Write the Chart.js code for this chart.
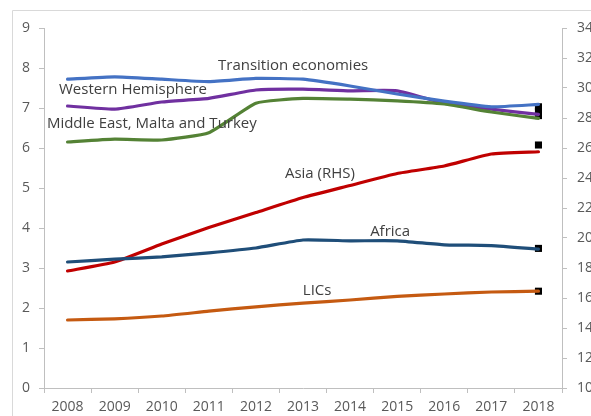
<!DOCTYPE html>
<html>
<head>
<meta charset="utf-8">
<script src="https://cdn.jsdelivr.net/npm/chart.js@4/dist/chart.umd.min.js"></script>
<style>
  html, body { margin: 0; padding: 0; background: #ffffff; }
  #wrap { width: 591px; height: 416px; }
</style>
</head>
<body>
<div id="wrap"><canvas id="c" width="591" height="416"></canvas></div>
<script>
const years = ['2008','2009','2010','2011','2012','2013','2014','2015','2016','2017','2018'];
const leftTicks = [0,1,2,3,4,5,6,7,8,9];
const rightTicks = [10,12,14,16,18,20,22,24,26,28,30,32,34];

const transition = [7.72, 7.78, 7.72, 7.66, 7.74, 7.72, 7.55, 7.35, 7.17, 7.03, 7.09];
const westernHem = [7.05, 6.97, 7.15, 7.24, 7.45, 7.47, 7.43, 7.43, 7.12, 6.97, 6.84];
const middleEast = [6.15, 6.22, 6.20, 6.38, 7.12, 7.24, 7.22, 7.18, 7.10, 6.90, 6.74];
const asiaRHS    = [17.8, 18.4, 19.6, 20.7, 21.7, 22.7, 23.5, 24.3, 24.8, 25.6, 25.75];
const africa     = [3.15, 3.22, 3.28, 3.38, 3.50, 3.70, 3.68, 3.68, 3.58, 3.56, 3.47];
const lics       = [1.70, 1.73, 1.80, 1.92, 2.03, 2.12, 2.20, 2.29, 2.35, 2.40, 2.42];

// 2018 black square markers
const markerYear = '2018';
const markersLeft = [7.03, 6.92, 6.81, 3.49, 2.42];
const markerAsia = [26.2];

const seriesLabels = [
  { text: 'Transition economies', xi: 4.79, y: 8.05 },
  { text: 'Western Hemisphere', xi: 1.39, y: 7.45 },
  { text: 'Middle East, Malta and Turkey', xi: 1.79, y: 6.6 },
  { text: 'Asia (RHS)', xi: 5.36, y: 5.35 },
  { text: 'Africa', xi: 6.85, y: 3.9 },
  { text: 'LICs', xi: 5.3, y: 2.43 }
];

const FONT = "'Segoe UI', 'Open Sans', 'Noto Sans', sans-serif";

const framePlugin = {
  id: 'frame',
  beforeDraw(chart) {
    const ctx = chart.ctx;
    ctx.save();
    ctx.strokeStyle = '#d9d9d9';
    ctx.lineWidth = 1;
    ctx.beginPath();
    ctx.moveTo(12.5, 416);
    ctx.lineTo(12.5, 10.5);
    ctx.lineTo(591, 10.5);
    ctx.stroke();
    ctx.restore();
  }
};

const labelPlugin = {
  id: 'seriesLabels',
  afterDatasetsDraw(chart) {
    const ctx = chart.ctx;
    const xs = chart.scales.x, ys = chart.scales.y;
    const band = (xs.right - xs.left) / years.length;
    ctx.save();
    ctx.font = '15px ' + FONT;
    ctx.fillStyle = '#404040';
    ctx.textAlign = 'center';
    ctx.textBaseline = 'middle';
    seriesLabels.forEach(l => {
      const px = xs.left + (l.xi + 0.5) * band;
      const py = ys.getPixelForValue(l.y);
      ctx.fillText(l.text, px, py);
    });
    ctx.restore();
  }
};

function lineDs(label, data, color, axis) {
  return {
    label, data, borderColor: color, backgroundColor: color,
    borderWidth: 3.2, pointRadius: 0, tension: 0.15, fill: false,
    yAxisID: axis, borderCapStyle: 'round', borderJoinStyle: 'round'
  };
}

const datasets = [
  lineDs('LICs', lics, '#C55A11', 'y'),
  lineDs('Africa', africa, '#1F4E79', 'y'),
  lineDs('Asia (RHS)', asiaRHS, '#C00000', 'y2'),
  lineDs('Transition economies', transition, '#4472C4', 'y'),
  lineDs('Middle East, Malta and Turkey', middleEast, '#548235', 'y'),
  lineDs('Western Hemisphere', westernHem, '#7030A0', 'y'),
  {
    label: 'markers', data: markersLeft.map(v => ({ x: markerYear, y: v })),
    showLine: false, pointStyle: 'rect', pointRadius: 5, pointBorderWidth: 0,
    pointBackgroundColor: '#000000', borderColor: '#000000', yAxisID: 'y'
  },
  {
    label: 'markersAsia', data: markerAsia.map(v => ({ x: markerYear, y: v })),
    showLine: false, pointStyle: 'rect', pointRadius: 5, pointBorderWidth: 0,
    pointBackgroundColor: '#000000', borderColor: '#000000', yAxisID: 'y2'
  }
];

const axisColor = '#bfbfbf';
const tickFont = { family: FONT, size: 14 };

new Chart(document.getElementById('c'), {
  type: 'line',
  data: { labels: years, datasets },
  plugins: [framePlugin, labelPlugin],
  options: {
    responsive: false,
    animation: false,
    layout: { padding: { top: 28, left: 0, right: 0, bottom: 0 } },
    plugins: { legend: { display: false }, tooltip: { enabled: false } },
    scales: {
      x: {
        type: 'category',
        offset: true,
        grid: { offset: true, drawOnChartArea: false, drawTicks: true, tickLength: 5, color: axisColor },
        border: { color: axisColor, width: 1 },
        ticks: { color: '#595959', font: tickFont, padding: 6, maxRotation: 0, autoSkip: false },
        afterFit(s) { s.height = 28; }
      },
      y: {
        position: 'left', min: 0, max: 9,
        afterBuildTicks(s) { s.ticks = leftTicks.map(v => ({ value: v })); },
        grid: { drawOnChartArea: false, drawTicks: true, tickLength: 5, color: axisColor },
        border: { color: axisColor, width: 1 },
        ticks: { color: '#595959', font: tickFont, padding: 9 },
        afterFit(s) { s.width = 44; }
      },
      y2: {
        position: 'right', min: 10, max: 34,
        afterBuildTicks(s) { s.ticks = rightTicks.map(v => ({ value: v })); },
        grid: { drawOnChartArea: false, drawTicks: true, tickLength: 5, color: axisColor },
        border: { color: axisColor, width: 1 },
        ticks: { color: '#595959', font: tickFont, padding: 10 },
        afterFit(s) { s.width = 29; }
      }
    }
  }
});
</script>
</body>
</html>
